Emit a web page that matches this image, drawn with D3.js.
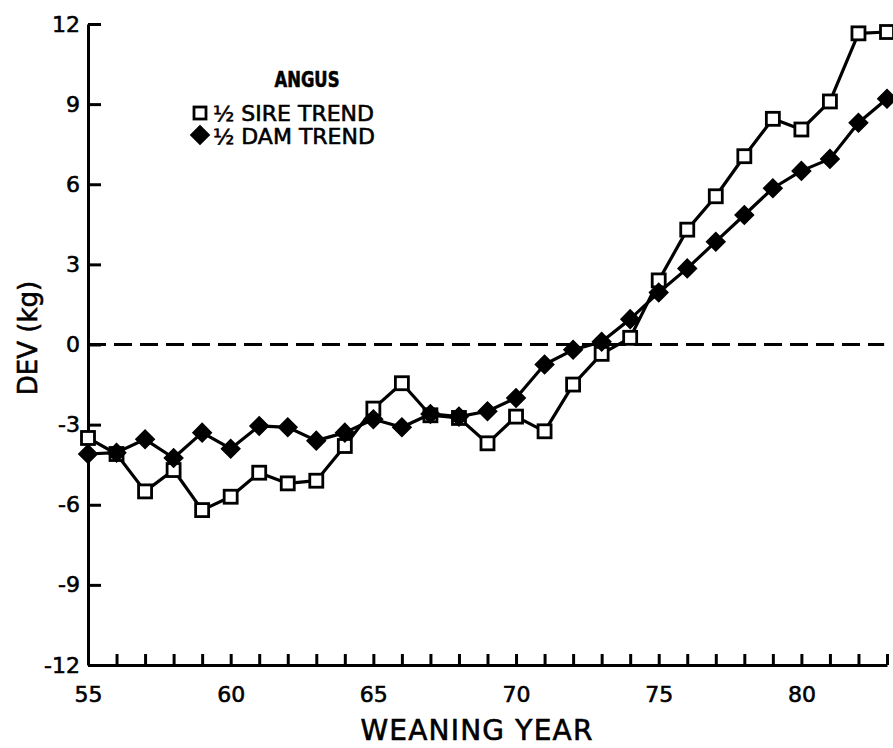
<!DOCTYPE html>
<html>
<head>
<meta charset="utf-8">
<script src="https://cdn.jsdelivr.net/npm/d3@7"></script>
<style>
  html, body { margin: 0; padding: 0; background: #fff; }
  svg { display: block; }
  text { font-family: "DejaVu Sans", sans-serif; fill: #000; stroke: #000; stroke-width: 0.6px; }
</style>
</head>
<body>
<svg id="chart" width="893" height="748"></svg>
<script>
// ---- data ----
const years = [55,56,57,58,59,60,61,62,63,64,65,66,67,68,69,70,71,72,73,74,75,76,77,78,79,80,81,82,83];
const sireTrend = [-3.5,-4.1,-5.5,-4.7,-6.2,-5.7,-4.8,-5.2,-5.1,-3.8,-2.4,-1.45,-2.65,-2.75,-3.7,-2.7,-3.25,-1.5,-0.35,0.25,2.4,4.3,5.55,7.05,8.45,8.05,9.1,11.65,11.7];
const damTrend  = [-4.1,-4.05,-3.55,-4.25,-3.3,-3.9,-3.05,-3.1,-3.6,-3.3,-2.8,-3.1,-2.6,-2.7,-2.5,-2.0,-0.75,-0.2,0.1,0.95,1.95,2.85,3.85,4.85,5.85,6.5,6.95,8.3,9.2];
const yTicks = [-12,-9,-6,-3,0,3,6,9,12];
const xLabelYears = [55,60,65,70,75,80];
const legendTitle = "ANGUS";
const legendLabels = ["½ SIRE TREND", "½ DAM TREND"];
const xTitle = "WEANING YEAR";
const yTitle = "DEV (kg)";

// ---- layout ----
const svg = d3.select("#chart");
const x = d3.scaleLinear().domain([55, 83]).range([88, 887]);
const y = d3.scaleLinear().domain([-12, 12]).range([665, 24]);

// axes
const yAxis = d3.axisLeft(y).tickValues(yTicks).tickSizeInner(-13).tickSizeOuter(0).tickPadding(8)
  .tickFormat(d => String(d));
const gy = svg.append("g").attr("transform", `translate(${x(55)},0)`).call(yAxis);
gy.selectAll("path, line").attr("stroke", "#000").attr("stroke-width", 3);
gy.selectAll("text").attr("font-size", 22).attr("font-family", "DejaVu Sans").attr("fill", "#000");

const xAxis = d3.axisBottom(x).tickValues(years).tickSizeInner(-11).tickSizeOuter(0).tickPadding(21)
  .tickFormat(d => xLabelYears.includes(d) ? String(d) : "");
const gx = svg.append("g").attr("transform", `translate(0,${y(-12)})`).call(xAxis);
gx.selectAll("path, line").attr("stroke", "#000").attr("stroke-width", 3);
gx.selectAll("text").attr("font-size", 22).attr("font-family", "DejaVu Sans").attr("fill", "#000");

// zero dashed line
svg.append("line")
  .attr("x1", x(55)).attr("x2", x(82.9))
  .attr("y1", y(0)).attr("y2", y(0))
  .attr("stroke", "#000").attr("stroke-width", 3)
  .attr("stroke-dasharray", "18,8");

// axis titles
svg.append("text")
  .attr("x", 477).attr("y", 740)
  .attr("text-anchor", "middle")
  .attr("font-size", 28).attr("letter-spacing", 1.2)
  .text(xTitle);
svg.append("text")
  .attr("transform", "translate(37,338) rotate(-90)")
  .attr("text-anchor", "middle")
  .attr("font-size", 26)
  .text(yTitle);

const line = d3.line().x((d, i) => x(years[i])).y(d => y(d));

// sire series (open squares)
svg.append("path").datum(sireTrend)
  .attr("d", line).attr("fill", "none").attr("stroke", "#000").attr("stroke-width", 3.2)
  .attr("stroke-linejoin", "round");
const sq = 13;
svg.append("g").selectAll("rect").data(sireTrend).join("rect")
  .attr("x", (d, i) => x(years[i]) - sq / 2)
  .attr("y", d => y(d) - sq / 2)
  .attr("width", sq).attr("height", sq)
  .attr("fill", "#fff").attr("stroke", "#000").attr("stroke-width", 2.8);

// dam series (filled diamonds)
svg.append("path").datum(damTrend)
  .attr("d", line).attr("fill", "none").attr("stroke", "#000").attr("stroke-width", 3.2)
  .attr("stroke-linejoin", "round");
const diamond = d3.symbol().type(d3.symbolSquare).size(170);
svg.append("g").selectAll("path").data(damTrend).join("path")
  .attr("d", diamond)
  .attr("transform", (d, i) => `translate(${x(years[i])},${y(d)}) rotate(45)`)
  .attr("fill", "#000").attr("stroke", "#000").attr("stroke-width", 1.5);

// legend
const lg = svg.append("g");
lg.append("text").attr("transform", "translate(307,87) scale(0.78,1)").attr("text-anchor", "middle")
  .attr("font-weight", "bold").attr("font-size", 21).text(legendTitle);
lg.append("rect").attr("x", 200 - 6).attr("y", 113 - 6).attr("width", 12).attr("height", 12)
  .attr("fill", "#fff").attr("stroke", "#000").attr("stroke-width", 2.8);
lg.append("path").attr("d", diamond).attr("transform", "translate(200,135) rotate(45)")
  .attr("fill", "#000").attr("stroke", "#000").attr("stroke-width", 1.5);
lg.append("text").attr("x", 213).attr("y", 121).attr("font-size", 22).text(legendLabels[0]);
lg.append("text").attr("x", 213).attr("y", 144).attr("font-size", 22).text(legendLabels[1]);
</script>
</body>
</html>
